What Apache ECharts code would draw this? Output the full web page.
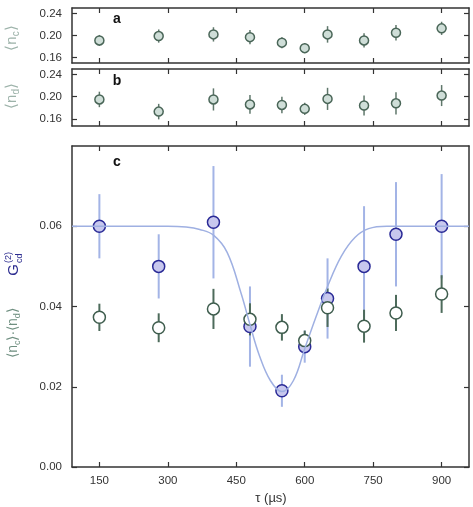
<!DOCTYPE html>
<html>
<head>
<meta charset="utf-8">
<script src="https://cdn.jsdelivr.net/npm/echarts@6/dist/echarts.min.js"></script>
<style>
html, body { margin: 0; padding: 0; background: #fff; }
#main { width: 473px; height: 507px; }
</style>
</head>
<body>
<div id="main"></div>
<script>
// delay times (µs)
var tau = [150, 280, 400, 480, 550, 600, 650, 730, 800, 900];
// panel a: <n_c>
var ncVal = [0.191, 0.199, 0.202, 0.197, 0.187, 0.177, 0.202, 0.191, 0.205, 0.213];
var ncErr = [0.010, 0.012, 0.013, 0.013, 0.010, 0.009, 0.015, 0.013, 0.014, 0.012];
// panel b: <n_d>
var ndVal = [0.195, 0.173, 0.195, 0.186, 0.185, 0.178, 0.196, 0.184, 0.188, 0.202];
var ndErr = [0.014, 0.014, 0.020, 0.017, 0.015, 0.011, 0.020, 0.018, 0.020, 0.019];
// panel c: G(2)_cd (blue) and <n_c>.<n_d> (green)
var gVal = [0.060, 0.050, 0.061, 0.035, 0.019, 0.030, 0.042, 0.050, 0.058, 0.060];
var gErr = [0.008, 0.008, 0.014, 0.010, 0.004, 0.004, 0.010, 0.015, 0.013, 0.013];
var pVal = [0.0373, 0.0347, 0.0394, 0.0368, 0.0348, 0.0315, 0.0397, 0.0351, 0.0384, 0.0431];
var pErr = [0.0034, 0.0036, 0.0050, 0.0040, 0.0033, 0.0025, 0.0048, 0.0041, 0.0045, 0.0047];
// fitted curve
var fitTau = [90, 300, 340, 370, 400, 430, 460, 480, 500, 525, 550, 575, 600, 625, 650, 680, 710, 740, 780, 960];
var fitVal = [0.060, 0.060, 0.0598, 0.0592, 0.0578, 0.0535, 0.0435, 0.0355, 0.028, 0.0215, 0.0188, 0.0215, 0.0295, 0.0375, 0.045, 0.0525, 0.0572, 0.0594, 0.060, 0.060];

var xTicks = [150, 300, 450, 600, 750, 900];
var topTicks = [0.16, 0.20, 0.24];
var cTicks = [0, 0.02, 0.04, 0.06];

var FONT = '"Liberation Sans", Arial, sans-serif';
var chart = echarts.init(document.getElementById('main'));

function pts(v, e) {
    return tau.map(function (t, i) { return [t, v[i], e[i]]; });
}

function xAx(gi, pos, labels) {
    return {
        type: 'value', gridIndex: gi, position: pos, min: 90, max: 960,
        axisLine: { show: true, onZero: false, lineStyle: { color: '#333', width: 1.5 } },
        axisTick: { show: true, inside: true, length: 5, customValues: xTicks, lineStyle: { color: '#333', width: 1.2 } },
        axisLabel: { show: labels, customValues: xTicks, color: '#333', fontSize: 11.5, fontFamily: FONT, margin: 8 },
        splitLine: { show: false }
    };
}

function yAx(gi, pos, min, max, ticks, labels) {
    return {
        type: 'value', gridIndex: gi, position: pos, min: min, max: max,
        axisLine: { show: true, onZero: false, lineStyle: { color: '#333', width: 1.5 } },
        axisTick: { show: true, inside: true, length: 5, customValues: ticks, lineStyle: { color: '#333', width: 1.2 } },
        axisLabel: {
            show: labels, customValues: ticks, color: '#333', fontSize: 11.5, fontFamily: FONT, margin: 10,
            formatter: function (v) { return v.toFixed(2); }
        },
        splitLine: { show: false }
    };
}

// error bar drawn as a vertical line
function errBar(color, width) {
    return function (params, api) {
        var x = api.value(0), v = api.value(1), e = api.value(2);
        var a = api.coord([x, v - e]);
        var b = api.coord([x, v + e]);
        return {
            type: 'line',
            shape: { x1: a[0], y1: a[1], x2: b[0], y2: b[1] },
            style: { stroke: color, lineWidth: width }
        };
    };
}

function bars(xi, yi, data, color, width) {
    return {
        type: 'custom', xAxisIndex: xi, yAxisIndex: yi, data: data,
        encode: { x: 0, y: 1 }, renderItem: errBar(color, width), silent: true
    };
}

function dots(xi, yi, data, size, fill, border, bw) {
    return {
        type: 'scatter', xAxisIndex: xi, yAxisIndex: yi, data: data, symbolSize: size,
        itemStyle: { color: fill, borderColor: border, borderWidth: bw, opacity: 1 },
        silent: true
    };
}

var subTitle = '#9db3aa';
var chainColor = '#6f8f80';
var smallRich = {
    t: { fontSize: 15, fontFamily: FONT, lineHeight: 19 },
    s: { fontSize: 10, fontFamily: FONT, lineHeight: 19, verticalAlign: 'bottom' }
};

option = {
    animation: false,
    grid: [
        { left: 72, right: 4, top: 8, height: 55 },
        { left: 72, right: 4, top: 69, height: 57 },
        { left: 72, right: 4, top: 146, height: 321 }
    ],
    xAxis: [
        xAx(0, 'bottom', false), xAx(0, 'top', false),
        xAx(1, 'bottom', false), xAx(1, 'top', false),
        xAx(2, 'bottom', true), xAx(2, 'top', false)
    ],
    yAxis: [
        yAx(0, 'left', 0.15, 0.25, topTicks, true), yAx(0, 'right', 0.15, 0.25, topTicks, false),
        yAx(1, 'left', 0.147, 0.25, topTicks, true), yAx(1, 'right', 0.147, 0.25, topTicks, false),
        yAx(2, 'left', 0, 0.08, cTicks, true), yAx(2, 'right', 0, 0.08, cTicks, false)
    ],
    graphic: [
        { type: 'text', x: 117, y: 19, style: { text: 'a', font: 'bold 14px ' + FONT, fill: '#111', align: 'center', verticalAlign: 'middle' } },
        { type: 'text', x: 117, y: 81, style: { text: 'b', font: 'bold 14px ' + FONT, fill: '#111', align: 'center', verticalAlign: 'middle' } },
        { type: 'text', x: 117, y: 162, style: { text: 'c', font: 'bold 14px ' + FONT, fill: '#111', align: 'center', verticalAlign: 'middle' } },
        {
            type: 'text', x: 12, y: 38, rotation: Math.PI / 2,
            style: { text: '{t|⟨n}{s|c}{t|⟩}', fill: subTitle, align: 'center', verticalAlign: 'middle', rich: smallRich }
        },
        {
            type: 'text', x: 12, y: 96, rotation: Math.PI / 2,
            style: { text: '{t|⟨n}{s|d}{t|⟩}', fill: subTitle, align: 'center', verticalAlign: 'middle', rich: smallRich }
        },
        {
            type: 'text', x: 13, y: 333, rotation: Math.PI / 2,
            style: {
                text: '{t|⟨n}{s|c}{t|⟩·⟨n}{s|d}{t|⟩}', fill: chainColor, align: 'center', verticalAlign: 'middle',
                rich: { t: { fontSize: 14, fontFamily: FONT, lineHeight: 18 }, s: { fontSize: 9, fontFamily: FONT, lineHeight: 18, verticalAlign: 'bottom' } }
            }
        },
        {
            type: 'group', x: 14, y: 270, rotation: Math.PI / 2,
            children: [
                { type: 'text', x: 0, y: 0, style: { text: 'G', font: '15px ' + FONT, fill: '#2b2b8f', align: 'center', verticalAlign: 'middle' } },
                { type: 'text', x: 7, y: -5, style: { text: '(2)', font: '9px ' + FONT, fill: '#2b2b8f', align: 'left', verticalAlign: 'middle' } },
                { type: 'text', x: 7, y: 6, style: { text: 'cd', font: '9px ' + FONT, fill: '#2b2b8f', align: 'left', verticalAlign: 'middle' } }
            ]
        },
        { type: 'text', x: 271, y: 498, style: { text: 'τ (µs)', font: '13px ' + FONT, fill: '#333', align: 'center', verticalAlign: 'middle' } }
    ],
    series: [
        bars(0, 0, pts(ncVal, ncErr), '#5f776b', 1.5),
        dots(0, 0, pts(ncVal, ncErr), 9, '#cfded8', '#4a6658', 1.5),
        bars(2, 2, pts(ndVal, ndErr), '#5f776b', 1.5),
        dots(2, 2, pts(ndVal, ndErr), 9, '#cfded8', '#4a6658', 1.5),
        {
            type: 'line', xAxisIndex: 4, yAxisIndex: 4, showSymbol: false, smooth: 0.4, silent: true,
            data: fitTau.map(function (t, i) { return [t, fitVal[i]]; }),
            lineStyle: { color: '#9fb0e2', width: 1.5 }
        },
        bars(4, 4, pts(gVal, gErr), '#a3b4e6', 2),
        dots(4, 4, pts(gVal, gErr), 12, '#c8c8ee', '#2a2a96', 1.5),
        bars(4, 4, pts(pVal, pErr), '#4d6b5b', 2),
        dots(4, 4, pts(pVal, pErr), 12, '#ffffff', '#3f5d4e', 1.5)
    ]
};

chart.setOption(option);
</script>
</body>
</html>
